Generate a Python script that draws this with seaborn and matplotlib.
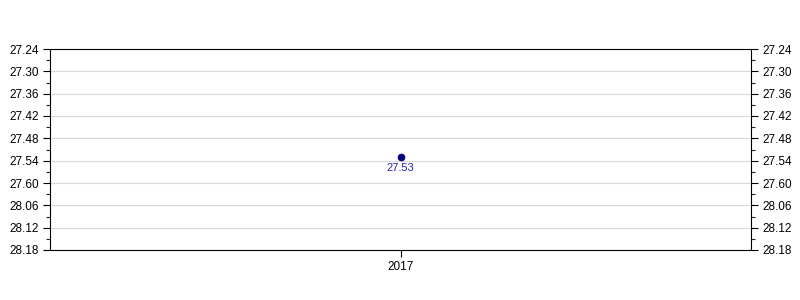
import matplotlib
matplotlib.use("Agg")
import matplotlib.pyplot as plt
import seaborn as sns
import pandas as pd
from matplotlib.ticker import FixedLocator

sns.set_style("white")
plt.rcParams['font.family'] = ['Liberation Sans', 'DejaVu Sans']

years = ["2017"]
times = [27.53]  # minutes.seconds
tick_labels = ["27.24", "27.30", "27.36", "27.42", "27.48", "27.54",
               "27.60", "28.06", "28.12", "28.18"]

def to_sec(v):
    m = int(v)
    s = round((v - m) * 100)
    return m * 60 + s

df = pd.DataFrame({"year": years, "sec": [to_sec(t) for t in times],
                   "label": [f"{t:.2f}" for t in times]})

tick_pos = [to_sec(float(t)) for t in tick_labels]

fig = plt.figure(figsize=(8, 3), dpi=100)
ax = fig.add_axes([50/800, 1-250/300, 701/800, 201/300])

sns.scatterplot(data=df, x="year", y="sec", ax=ax, color="#000080",
                s=25, edgecolor="#000080", linewidth=0.5, zorder=3)
for i, r in df.iterrows():
    ax.annotate(r["label"], (i, r["sec"]), xytext=(0, -8), textcoords="offset points",
                ha="center", va="center", color="#2222aa", fontsize=8)

ax.set_xlim(-0.5, 0.5)
ax.set_ylim(tick_pos[-1], tick_pos[0])
ax.set_yticks(tick_pos)
ax.set_yticklabels(tick_labels)
minor = [(a + b) / 2 for a, b in zip(tick_pos[:-1], tick_pos[1:])]
ax.yaxis.set_minor_locator(FixedLocator(minor))
ax.grid(axis="y", which="major", color="#d8d8d8", linewidth=0.8)
ax.set_axisbelow(True)
ax.set_xlabel("")
ax.set_ylabel("")
for sp in ax.spines.values():
    sp.set_color("black")
    sp.set_linewidth(0.8)

ax.tick_params(axis="y", which="major", direction="out", length=5, width=0.8,
               left=True, right=True, labelleft=True, labelright=True,
               labelsize=8.5, colors="black", pad=3)
ax.tick_params(axis="y", which="minor", direction="out", length=3, width=0.8,
               left=True, right=True)
ax.tick_params(axis="x", direction="out", length=5, width=0.8, bottom=True,
               labelsize=8.5, colors="black", pad=3)

fig.savefig("out.png", dpi=100)
